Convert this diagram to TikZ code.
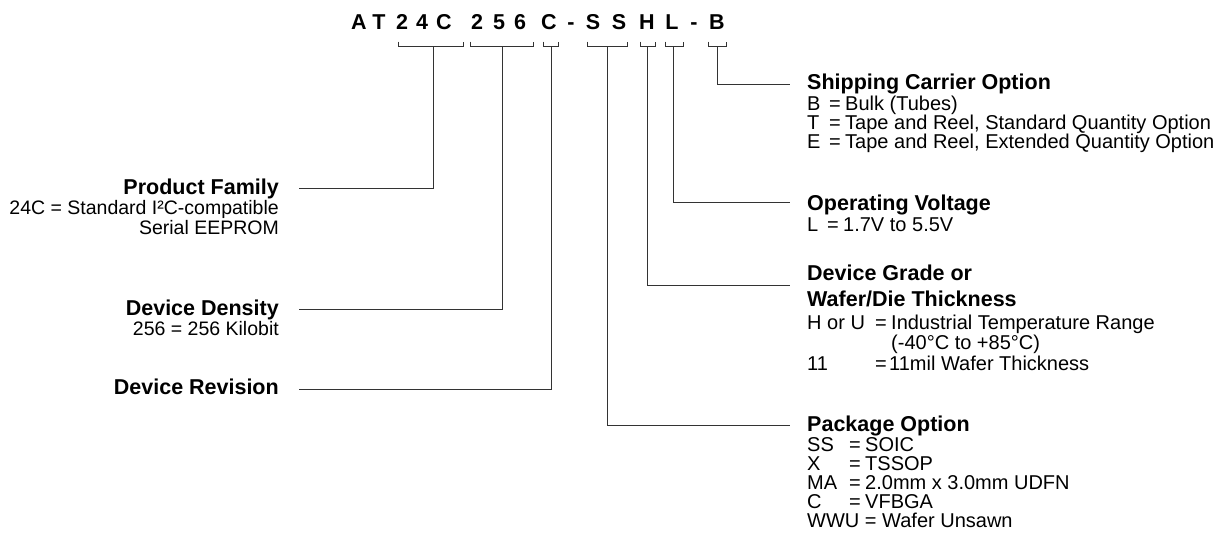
\documentclass[tikz,border=0pt]{standalone}
\usepackage{fontspec}
\setmainfont{Liberation Sans}
\begin{document}
\begin{tikzpicture}
[
 x=1pt, y=-1pt,
 inner sep=0pt,
 CODE/.style={anchor=base, font=\fontsize{21.5}{22}\selectfont\bfseries},
 HEADR/.style={anchor=base west, font=\fontsize{21.5}{24}\selectfont\bfseries},
 HEADL/.style={anchor=base east, font=\fontsize{21.5}{24}\selectfont\bfseries},
 TXTR/.style={anchor=base west, font=\fontsize{20}{20}\selectfont},
 TXTL/.style={anchor=base east, font=\fontsize{19.5}{20}\selectfont},
 BRACE/.style={draw=black!80, line width=1pt},
 LEAD/.style={draw=black!80, line width=1pt},
 ]
\useasboundingbox (0,0) rectangle (1225,554);
%
\foreach \ch/\x [count=\i] in {A/359,T/379,2/402,4/422,C/444,2/477,5/499,6/520,C/549,-/571,S/593,S/619,H/647,L/672,-/694,B/717}
   {
     \node [CODE]  (ch\i)  at ( \x, 29)  {\ch};
   }
%
\foreach \a/\b/\m/\n in {398/463/433/fam, 470/533/502/den, 543/558/551/rev, 587/627/607/pkg, 640/655/647/grd, 665/683/673/vlt, 708/726/717/shp}
   {
     \draw [BRACE]  (\a,41.7) |- (\b,46.7) -- (\b,41.7);
     \coordinate (b\n)  at (\m,46.7);
   }
%
\coordinate (efam)  at (299,188);
\coordinate (eden)  at (299,309);
\coordinate (erev)  at (299,389);
\coordinate (eshp)  at (790,84);
\coordinate (evlt)  at (790,202.5);
\coordinate (egrd)  at (790,285);
\coordinate (epkg)  at (790,425);
%
\draw [LEAD]  (bfam)  |- (efam) ;
\draw [LEAD]  (bden)  |- (eden) ;
\draw [LEAD]  (brev)  |- (erev) ;
\draw [LEAD]  (bshp)  |- (eshp) ;
\draw [LEAD]  (bvlt)  |- (evlt) ;
\draw [LEAD]  (bgrd)  |- (egrd) ;
\draw [LEAD]  (bpkg)  |- (epkg) ;
%
\node [HEADL]  (famH)  at (279,194)  {Product Family};
\node [TXTL]   (fam1)  at (279,214.5)  {24C = Standard I²C-compatible};
\node [TXTL]   (fam2)  at (279,234)  {Serial EEPROM};
%
\node [HEADL]  (denH)  at (279,315)  {Device Density};
\node [TXTL]   (den1)  at (279,335)  {256 = 256 Kilobit};
%
\node [HEADL]  (revH)  at (279,394)  {Device Revision};
%
\node [HEADR]  (shpH)  at (807,89)  {Shipping Carrier Option};
\foreach \k/\v [count=\i] in {B/Bulk (Tubes), T/{Tape and Reel, Standard Quantity Option}, E/{Tape and Reel, Extended Quantity Option}}
   {
     \node [TXTR]  (shp\i)  at (807, 91+19*\i)  {\makebox[22pt][l]{\k}\makebox[16pt][l]{=}\v};
   }
%
\node [HEADR]  (vltH)  at (807,210)  {Operating Voltage};
\node [TXTR]   (vlt1)  at (807,231)  {\makebox[20pt][l]{L}\makebox[16pt][l]{=}1.7V to 5.5V};
%
\node [HEADR]  (grdH)  at (807,280)  {Device Grade or};
\node [HEADR]  (grdH2) at (807,306)  {Wafer/Die Thickness};
\node [TXTR]   (grd1)  at (807,329)  {\makebox[68pt][l]{H or U}\makebox[16pt][l]{=}Industrial Temperature Range};
\node [TXTR]   (grd2)  at (891,349)  {(-40°C to +85°C)};
\node [TXTR]   (grd3)  at (807,370)  {\makebox[68pt][l]{11}\makebox[14pt][l]{=}11mil Wafer Thickness};
%
\node [HEADR]  (pkgH)  at (807,431)  {Package Option};
\foreach \k/\v [count=\i] in {SS/SOIC, X/TSSOP, MA/2.0mm x 3.0mm UDFN, C/VFBGA}
   {
     \node [TXTR]  (pkg\i)  at (807, 432+19*\i)  {\makebox[42pt][l]{\k}\makebox[16pt][l]{=}\v};
   }
\node [TXTR]   (pkg5)  at (807,527)  {WWU = Wafer Unsawn};
%
\end{tikzpicture}
\end{document}
